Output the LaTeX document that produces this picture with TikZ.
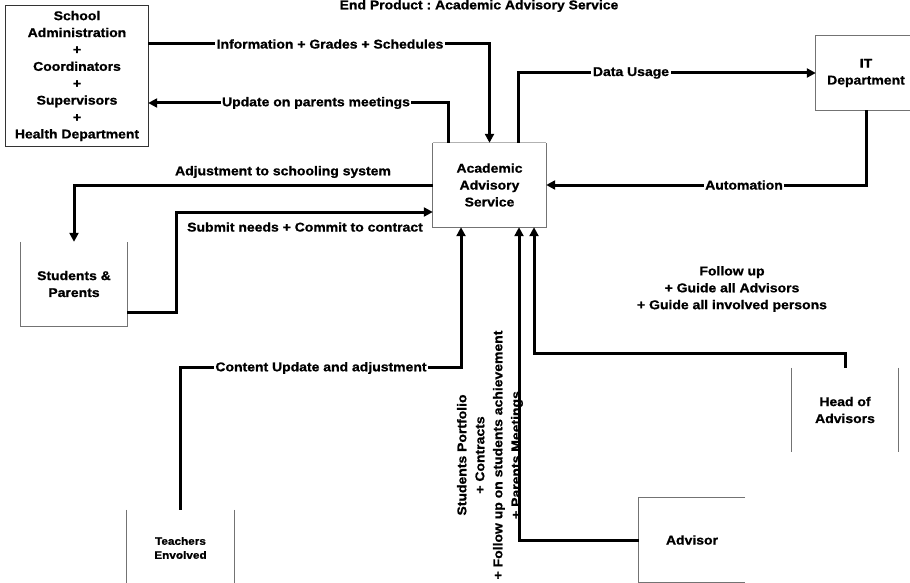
\documentclass[tikz,border=0pt]{standalone}
\usepackage{fontspec}
\setmainfont{Liberation Sans}[FakeStretch=1.1,BoldFeatures={FakeBold=1}]
\usetikzlibrary{arrows.meta}
\frenchspacing
\newcommand\boxfont{\fontsize{12.7}{16.9}\selectfont\bfseries}
\newcommand\smallboxfont{\fontsize{10.7}{14}\selectfont\bfseries}
\newcommand\sidefont{\fontsize{12.7}{18}\selectfont\bfseries}
\begin{document}
\begin{tikzpicture}[x=1pt,y=-1pt,
  box/.style={minimum width=106pt,minimum height=84pt,inner sep=0pt,
    align=center,font=\boxfont},
  side/.style={draw=black!55,line width=0.8pt},
  flow/.style={line width=3pt,-{Triangle[length=9pt,width=9pt]}},
  lbl/.style={font=\boxfont,fill=white,inner sep=1.5pt,align=center},
  txt/.style={font=\boxfont,inner sep=0pt,align=center}]
\fill[white] (0,0) rectangle (910,583);
\useasboundingbox (0,0) rectangle (910,583);

% title
\node[txt] (title) at (479,6) {End Product : Academic Advisory Service};

% entities
\node[box,minimum width=142pt,minimum height=141pt] (school) at (77,76)
  {School\\Administration\\+\\Coordinators\\+\\Supervisors\\+\\Health Department};
\draw[side,draw=black!80] (school.north west) rectangle (school.south east);

\node[box,minimum width=113pt] (acad) at (489.5,185) {Academic\\Advisory\\Service};
\draw[side] (acad.north west) -- (acad.south west) -- (acad.south east) -- (acad.north east);
\draw[side,draw=black!30] (acad.north west) -- (acad.north east);

\node[box,minimum width=100pt,minimum height=74pt] (it) at (866,73) {IT\\Department};
\draw[side] (it.north east) -- (it.north west) -- (it.south west) -- (it.south east);

\node[box] (students) at (74,284) {Students \&\\Parents};
\draw[side] (students.north west) -- (students.south west) -- (students.south east) -- (students.north east);

\node[box,minimum width=107pt,minimum height=76pt,font=\smallboxfont] (teachers) at (180.5,548) {Teachers\\Envolved};
\draw[side] (teachers.north west) -- (teachers.south west);
\draw[side] (teachers.north east) -- (teachers.south east);

\node[box] (head) at (845,410) {Head of\\Advisors};
\draw[side] (head.north west) -- (head.south west);
\draw[side] (head.north east) -- (head.south east);

\node[box] (advisor) at (692,540) {Advisor};
\draw[side] (advisor.north east) -- (advisor.north west) -- (advisor.south west) -- (advisor.south east);

% flows
\draw[flow] (school.east |- 0,44) -| (acad.north);
\node[lbl] (l1) at (330,44) {Information + Grades + Schedules};

\draw[flow] (acad.north -| 448,0) |- (school.east |- 0,103);
\node[lbl] (l2) at (316,103) {Update on parents meetings};

\draw[flow] (acad.north -| 518,0) |- (it.west);
\node[lbl] (l3) at (631,73) {Data Usage};

\draw[flow] (it.south) |- (acad.east);
\node[lbl] (l4) at (744,185) {Automation};

\draw[flow] (acad.west) -| (students.north);
\node[txt] (l5) at (283,172) {Adjustment to schooling system};

\draw[flow] (students.east |- 0,312) -- ++(49,0) |- (acad.west |- 0,212);
\node[txt] (l6) at (305,227) {Submit needs + Commit to contract};

\draw[flow] (teachers.north) -- ++(0,-142) -| (acad.south -| 461,0);
\node[lbl] (l7) at (321,368) {Content Update and adjustment};

\draw[flow] (advisor.west) -| (acad.south -| 519,0);
\node[txt,font=\sidefont,rotate=90] (l8) at (490,455)
  {Students Portfolio\\+ Contracts\\+ Follow up on students achievement\\+ Parents Meetings};

\draw[flow] (head.north) -- ++(0,-14) -| (acad.south -| 534,0);
\node[txt] (l9) at (732,289) {Follow up\\+ Guide all Advisors\\+ Guide all involved persons};
\end{tikzpicture}
\end{document}
